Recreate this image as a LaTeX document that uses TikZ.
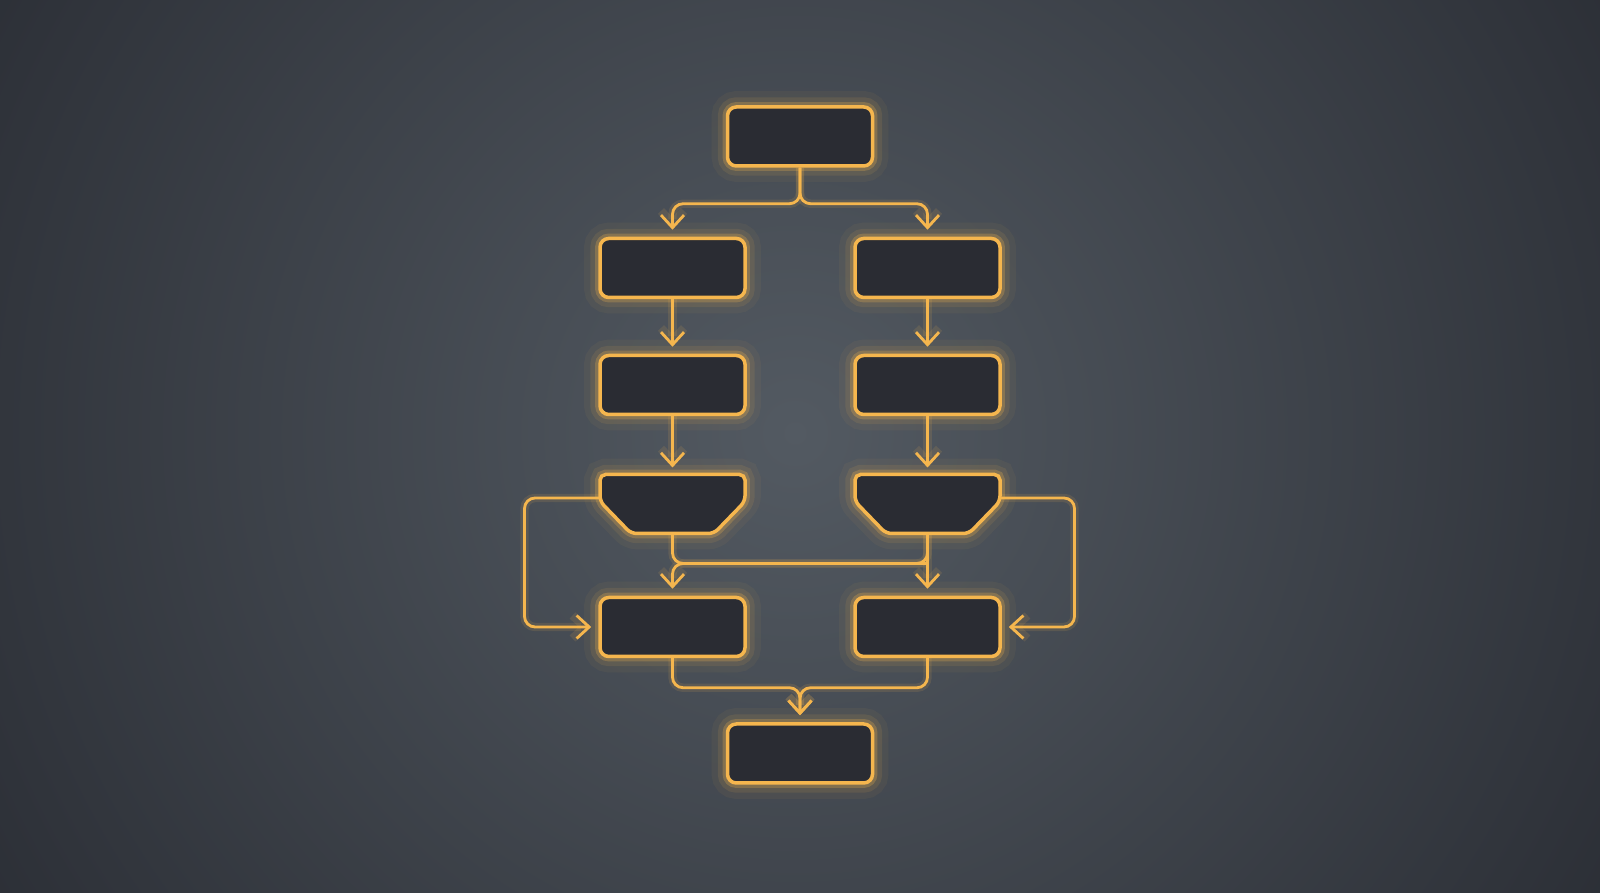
\documentclass[tikz,border=0pt]{standalone}
\usetikzlibrary{arrows.meta}
\definecolor{glowor}{HTML}{F5B64E}
\definecolor{boxfill}{HTML}{2A2C33}
\definecolor{bgin}{HTML}{535A62}
\definecolor{bgout}{HTML}{272A31}
\tikzstyle{glow}=[preaction={draw=glowor, line width=9pt, opacity=0.05}, preaction={draw=glowor, line width=5.5pt, opacity=0.1}, preaction={draw=glowor, line width=2.8pt, opacity=0.25}]
\tikzstyle{process}=[rectangle, draw=glowor, fill=boxfill, line width=1pt, rounded corners=2.5pt, minimum width=1.45cm, minimum height=0.59cm, glow]
\tikzstyle{split}=[rectangle, minimum width=1.45cm, minimum height=0.59cm, inner sep=0pt, outer sep=0pt]
\tikzstyle{splitbox}=[draw=glowor, fill=boxfill, line width=1pt, rounded corners=1.6pt, glow]
\tikzstyle{link}=[draw=glowor, line width=0.8pt, rounded corners=3pt, preaction={draw=glowor, line width=2.4pt, opacity=0.12}]
\tikzstyle{arrow}=[link, shorten >=2pt, -{Straight Barb[length=1.25mm, width=2.3mm]}]

\begin{document}
\begin{tikzpicture}[node distance=1.2cm, auto]
		\useasboundingbox (0,0) rectangle (16,8.93);
		\begin{scope}
		\clip (0,0) rectangle (16,8.93);
		\shade[inner color=bgin, outer color=bgout] (7.95,4.6) circle (10.5cm);
		\end{scope}
		
		\node (start) [process] at (8,7.565) {};
		\node (l1) [process, below of=start, xshift=-1.275cm, yshift=-0.115cm] {};
		\node (r1) [process, right of=l1, xshift=1.35cm] {};
		\node (l2) [process, below of=l1, yshift=0.03cm] {};
		\node (r2) [process, below of=r1, yshift=0.03cm] {};
		\node (l3) [split, below of=l2, yshift=0.01cm] {};
		\node (r3) [split, below of=r2, yshift=0.01cm] {};
		\node (l4) [process, below of=l3, yshift=-0.03cm] {};
		\node (r4) [process, below of=r3, yshift=-0.03cm] {};
		\node (stop) [process, below of=l4, xshift=1.275cm, yshift=-0.065cm] {};
		
		% chamfered split boxes
		\draw[splitbox] (l3.north west) -- (l3.north east) -- ([yshift=-0.27cm]l3.north east) -- ([xshift=-0.31cm]l3.south east) -- ([xshift=0.31cm]l3.south west) -- ([yshift=-0.27cm]l3.north west) -- cycle;
		\draw[splitbox] (r3.north west) -- (r3.north east) -- ([yshift=-0.27cm]r3.north east) -- ([xshift=-0.31cm]r3.south east) -- ([xshift=0.31cm]r3.south west) -- ([yshift=-0.27cm]r3.north west) -- cycle;
		
		\draw[arrow] (start.south) -- ++(0,-0.36) -| (l1.north);
		\draw[arrow] (start.south) -- ++(0,-0.36) -| (r1.north);
		\draw[arrow] (l1) -- (l2);
		\draw[arrow] (r1) -- (r2);
		\draw[arrow] (l2) -- (l3);
		\draw[arrow] (r2) -- (r3);
		\draw[arrow] (r3) -- (r4);
		\draw[link] (l3.south) |- ([yshift=-0.3cm]r3.south);
		\draw[arrow] (r3.south) -- ++(0,-0.3) -| (l4.north);
		\draw[arrow] ([yshift=0.06cm]l3.west) -- ++(-0.755,0) |- (l4.west);
		\draw[arrow] ([yshift=0.06cm]r3.east) -- ++(0.745,0) |- (r4.east);
		\draw[arrow] (l4.south) -- ++(0,-0.295) -| (stop.north);
		\draw[arrow] (r4.south) -- ++(0,-0.295) -| (stop.north);
		
		\end{tikzpicture}
\end{document}
